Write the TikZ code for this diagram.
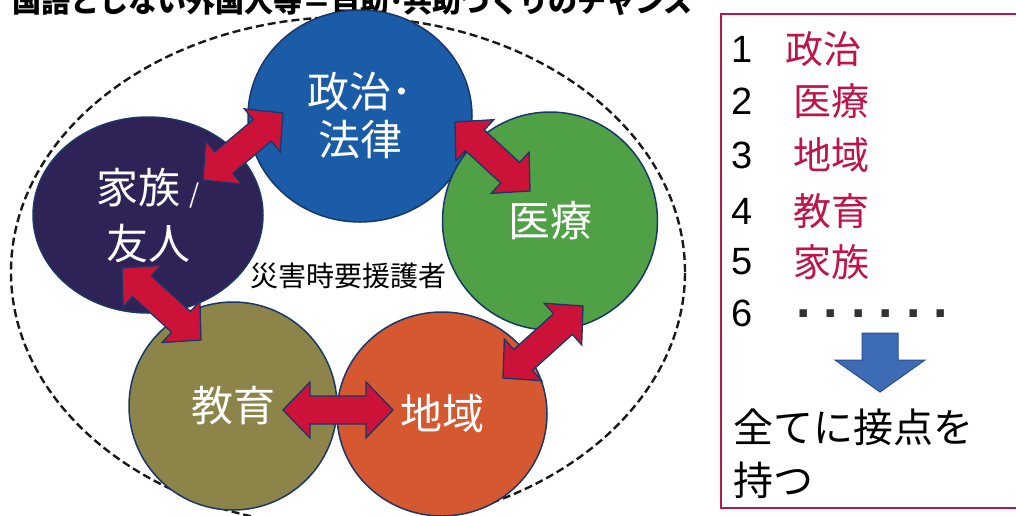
\documentclass[tikz,border=0pt]{standalone}
\usepackage{fontspec}
\setmainfont{Liberation Sans}
\newfontfamily\jp{Noto Sans CJK JP}
\usetikzlibrary{shapes.geometric,calc}

\definecolor{cpol}{RGB}{26,92,168}
\definecolor{cfam}{RGB}{46,34,86}
\definecolor{cmed}{RGB}{80,160,70}
\definecolor{cedu}{RGB}{140,132,72}
\definecolor{creg}{RGB}{214,88,48}
\definecolor{outl}{RGB}{25,55,105}
\definecolor{arrred}{RGB}{205,18,58}
\definecolor{boxred}{RGB}{178,25,80}
\definecolor{listred}{RGB}{192,20,72}
\definecolor{dnblue}{RGB}{62,108,180}
\definecolor{dnline}{RGB}{40,80,145}
\definecolor{dotgray}{RGB}{50,50,50}

\tikzset{
  bubble/.style={ellipse, draw=outl, line width=1.5pt, inner sep=0pt,
    text=white, align=center},
  bubfont/.style={font=\jp\fontsize{42}{#1}\selectfont},
  fatarrow/.style={draw=outl, line width=1.3pt, fill=arrred, line join=miter,
    to path={
      -- ($(\tikztostart)!27pt!(\tikztotarget)!28pt!90:(\tikztotarget)$)
      -- ($(\tikztostart)!27pt!(\tikztotarget)!14pt!90:(\tikztotarget)$)
      -- ($(\tikztotarget)!27pt!(\tikztostart)!14pt!-90:(\tikztostart)$)
      -- ($(\tikztotarget)!27pt!(\tikztostart)!28pt!-90:(\tikztostart)$)
      -- (\tikztotarget)
      -- ($(\tikztotarget)!27pt!(\tikztostart)!28pt!90:(\tikztostart)$)
      -- ($(\tikztotarget)!27pt!(\tikztostart)!14pt!90:(\tikztostart)$)
      -- ($(\tikztostart)!27pt!(\tikztotarget)!14pt!-90:(\tikztotarget)$)
      -- ($(\tikztostart)!27pt!(\tikztotarget)!28pt!-90:(\tikztotarget)$)
      -- cycle}},
  numtxt/.style={anchor=west, inner sep=0pt, font=\fontsize{38}{38}\selectfont},
  itemtxt/.style={anchor=west, inner sep=0pt, text=listred, font=\jp\fontsize{38}{38}\selectfont},
  bigtxt/.style={anchor=west, inner sep=0pt, font=\jp\fontsize{40}{40}\selectfont}
}

\begin{document}
\begin{tikzpicture}[x=1pt,y=-1pt]
\useasboundingbox (0,0) rectangle (1016,515);
\fill[white] (0,0) rectangle (1016,515);

% title (cut off at the top)
\node[anchor=base west, inner sep=0pt, font=\jp\bfseries\fontsize{29}{29}\selectfont] (title) at (12,12)
  {国語としない外国人等＝自助･共助づくりのチャンス};

% dashed zone
\node[ellipse, draw=black!90, line width=2.4pt, dash pattern=on 8pt off 4pt,
  minimum width=674pt, minimum height=510pt, inner sep=0pt] (zone) at (348,272) {};

% bubbles
\node[bubble, bubfont=48, fill=cpol, minimum width=224pt, minimum height=212pt] (pol) at (360,116) {政治･\\法律};
\node[bubble, bubfont=56, fill=cfam, minimum width=230pt, minimum height=196pt] (fam) at (148,215)
  {家族 {\fontsize{26}{26}\selectfont /}\\友人};
\node[bubble, bubfont=48, fill=cmed, minimum width=215pt, minimum height=218pt] (med) at (550,221) {医療};
\node[bubble, bubfont=48, fill=cedu, minimum width=208pt, minimum height=208pt] (edu) at (233,406) {教育};
\node[bubble, bubfont=48, fill=creg, minimum width=210pt, minimum height=204pt] (reg) at (442,414) {地域};

\node[inner sep=0pt, font=\jp\fontsize{28}{28}\selectfont] (vuln) at (348,276) {災害時要援護者};

% arrow end points
\coordinate (a1) at (203,180); \coordinate (b1) at (283,113);
\coordinate (a2) at (455,122); \coordinate (b2) at (530,191);
\coordinate (a3) at (583,306); \coordinate (b3) at (503,378);
\coordinate (a4) at (283,410); \coordinate (b4) at (393,410);
\coordinate (a5) at (122,268); \coordinate (b5) at (201,340);

\draw[fatarrow] (a1) to (b1);
\draw[fatarrow] (a2) to (b2);
\draw[fatarrow] (a3) to (b3);
\draw[fatarrow] (a4) to (b4);
\draw[fatarrow] (a5) to (b5);

% right box
\draw[boxred, line width=2pt] (721,14) rectangle (1040,508);

\node[numtxt] (n1) at (731,49) {1};  \node[itemtxt] (i1) at (785,49) {政治};
\node[numtxt] (n2) at (731,101) {2}; \node[itemtxt] (i2) at (793,101) {医療};
\node[numtxt] (n3) at (731,155) {3}; \node[itemtxt] (i3) at (793,155) {地域};
\node[numtxt] (n4) at (731,211) {4}; \node[itemtxt] (i4) at (793,211) {教育};
\node[numtxt] (n5) at (731,262) {5}; \node[itemtxt] (i5) at (793,262) {家族};
\node[numtxt] (n6) at (731,313) {6};
\node[anchor=base west, inner sep=0pt, text=dotgray, font=\bfseries\fontsize{52}{52}\selectfont] (dots) at (796,317)
  {.\hspace{13.1pt}.\hspace{13.1pt}.\hspace{13.1pt}.\hspace{13.1pt}.\hspace{13.1pt}.};

\filldraw[fill=dnblue, draw=dnline, line width=1pt]
  (862,333) -- (898,333) -- (898,360) -- (925,360) -- (880,392) -- (835,360) -- (862,360) -- cycle;

\node[bigtxt] (all) at (733,427) {全てに接点を};
\node[bigtxt] (hold) at (733,480) {持つ};
\end{tikzpicture}
\end{document}
